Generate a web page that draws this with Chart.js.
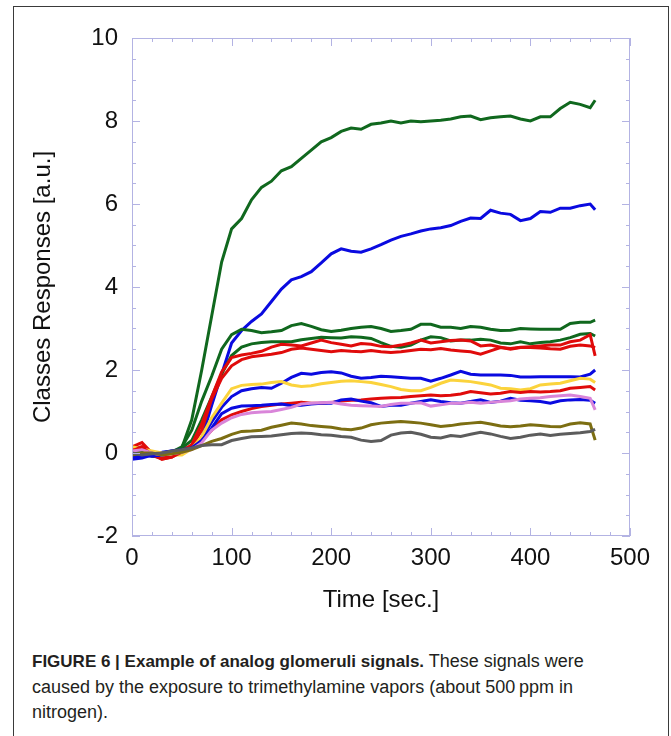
<!DOCTYPE html>
<html>
<head>
<meta charset="utf-8">
<script src="https://cdn.jsdelivr.net/npm/chart.js@4/dist/chart.umd.min.js"></script>
<style>
    body { margin: 0; background: #fff; width: 671px; height: 736px; overflow: hidden; position: relative; }
    #frame { position: absolute; left: 13px; top: 6px; width: 656px; height: 760px; border: 1px solid #3a3a3a; box-sizing: border-box; }
    #chart { position: absolute; left: 0; top: 0; }
    #caption { position: absolute; left: 32px; top: 649px; font-family: "Liberation Sans", Arial, sans-serif; font-size: 18px; line-height: 25.5px; color: #231f20; white-space: nowrap; }
    #caption b { font-size: 17px; }
</style>
</head>
<body>
<div id="frame"></div>
<canvas id="chart" width="671" height="620"></canvas>
<div id="caption"><b>FIGURE 6 | Example of analog glomeruli signals.</b> These signals were<br>caused by the exposure to trimethylamine vapors (about 500&#8201;ppm in<br>nitrogen).</div>
<script>
// time axis, sec.
const times = [0, 10, 20, 30, 40, 50, 60, 70, 80, 90,
    100, 110, 120, 130, 140, 150, 160, 170, 180, 190,
    200, 210, 220, 230, 240, 250, 260, 270, 280, 290,
    300, 310, 320, 330, 340, 350, 360, 370, 380, 390,
    400, 410, 420, 430, 440, 450, 460, 465];

// class responses [a.u.]
const green1 = [-0.05, 0.0, -0.05, -0.08, 0.0, 0.12, 0.8, 2.0, 3.3, 4.6,
    5.4, 5.65, 6.1, 6.4, 6.55, 6.8, 6.9, 7.1, 7.3, 7.5,
    7.6, 7.75, 7.83, 7.8, 7.92, 7.95, 8.0, 7.95, 8.0, 7.98,
    8.0, 8.02, 8.05, 8.1, 8.12, 8.03, 8.08, 8.1, 8.12, 8.05,
    8.0, 8.1, 8.1, 8.3, 8.45, 8.4, 8.32, 8.5];
const blue1 = [-0.15, -0.12, -0.05, 0.0, 0.05, 0.1, 0.15, 0.35, 1.15, 1.9,
    2.65, 2.95, 3.17, 3.35, 3.65, 3.95, 4.17, 4.25, 4.37, 4.58,
    4.8, 4.92, 4.86, 4.84, 4.92, 5.02, 5.13, 5.22, 5.28, 5.35,
    5.4, 5.43, 5.48, 5.58, 5.66, 5.65, 5.85, 5.78, 5.75, 5.6,
    5.65, 5.82, 5.8, 5.9, 5.9, 5.96, 6.0, 5.86];
const green2 = [0.0, 0.05, -0.05, -0.08, 0.02, 0.15, 0.55, 1.25, 1.85, 2.5,
    2.85, 2.98, 2.95, 2.9, 2.92, 2.95, 3.07, 3.12, 3.05, 2.97,
    2.93, 2.96, 3.0, 3.03, 3.05, 3.0, 2.93, 2.95, 2.98, 3.1,
    3.1, 3.03, 3.03, 3.0, 3.05, 3.03, 2.98, 2.95, 2.96, 3.0,
    2.99, 2.98, 2.98, 2.98, 3.12, 3.15, 3.15, 3.2];
const green3 = [0.05, 0.0, -0.08, -0.1, 0.0, 0.12, 0.3, 0.8, 1.35, 1.9,
    2.35, 2.55, 2.63, 2.66, 2.68, 2.68, 2.68, 2.73, 2.76, 2.79,
    2.78, 2.77, 2.8, 2.79, 2.76, 2.66, 2.57, 2.55, 2.6, 2.72,
    2.8, 2.78, 2.7, 2.72, 2.72, 2.74, 2.72, 2.65, 2.63, 2.68,
    2.63, 2.66, 2.68, 2.72, 2.78, 2.86, 2.88, 2.82];
const red1 = [0.15, 0.25, 0.0, -0.15, -0.1, 0.05, 0.2, 0.7, 1.35, 1.95,
    2.3, 2.36, 2.4, 2.45, 2.55, 2.62, 2.6, 2.58, 2.65, 2.72,
    2.66, 2.62, 2.58, 2.64, 2.62, 2.57, 2.56, 2.6, 2.65, 2.72,
    2.65, 2.68, 2.71, 2.72, 2.7, 2.58, 2.6, 2.55, 2.5, 2.54,
    2.56, 2.58, 2.6, 2.6, 2.68, 2.72, 2.85, 2.34];
const red2 = [0.1, 0.15, -0.05, -0.12, -0.08, 0.05, 0.15, 0.55, 1.3, 1.8,
    2.1, 2.25, 2.32, 2.35, 2.38, 2.42, 2.5, 2.53, 2.5, 2.47,
    2.44, 2.47, 2.45, 2.44, 2.47, 2.44, 2.42, 2.44, 2.47, 2.5,
    2.49, 2.52, 2.48, 2.46, 2.44, 2.38, 2.46, 2.54, 2.52, 2.55,
    2.54, 2.53, 2.51, 2.5, 2.57, 2.6, 2.58, 2.54];
const blue2 = [-0.12, -0.05, 0.0, 0.02, 0.05, 0.08, 0.12, 0.35, 0.75, 1.1,
    1.36, 1.5, 1.55, 1.58, 1.56, 1.68, 1.82, 1.92, 1.9, 1.94,
    1.96, 1.93, 1.85, 1.8, 1.82, 1.85, 1.84, 1.82, 1.8, 1.8,
    1.73, 1.8, 1.88, 1.97, 1.9, 1.88, 1.88, 1.88, 1.87, 1.83,
    1.83, 1.84, 1.84, 1.84, 1.84, 1.83, 1.9, 2.0];
const yellow = [0.15, 0.1, 0.05, 0.0, -0.05, -0.05, 0.1, 0.4, 0.85, 1.2,
    1.55, 1.63, 1.65, 1.66, 1.7, 1.72, 1.64, 1.6, 1.62, 1.67,
    1.7, 1.73, 1.74, 1.72, 1.7, 1.65, 1.6, 1.53, 1.5, 1.5,
    1.58, 1.68, 1.76, 1.74, 1.72, 1.68, 1.64, 1.56, 1.55, 1.52,
    1.55, 1.64, 1.66, 1.68, 1.74, 1.8, 1.78, 1.7];
const red3 = [0.05, 0.15, -0.05, -0.15, -0.1, 0.02, 0.1, 0.3, 0.55, 0.8,
    0.92, 1.0, 1.07, 1.12, 1.15, 1.18, 1.2, 1.22, 1.2, 1.2,
    1.22, 1.25, 1.27, 1.28, 1.3, 1.32, 1.33, 1.34, 1.36, 1.38,
    1.4, 1.38, 1.39, 1.42, 1.48, 1.45, 1.42, 1.44, 1.48, 1.46,
    1.48, 1.47, 1.48, 1.5, 1.56, 1.58, 1.6, 1.52];
const blue3 = [-0.1, -0.05, -0.08, -0.05, 0.0, 0.05, 0.12, 0.3, 0.6, 0.95,
    1.08, 1.13, 1.14, 1.15, 1.17, 1.18, 1.14, 1.15, 1.18, 1.2,
    1.2, 1.28, 1.3, 1.25, 1.21, 1.12, 1.15, 1.15, 1.2, 1.24,
    1.28, 1.24, 1.21, 1.2, 1.24, 1.28, 1.22, 1.25, 1.32, 1.27,
    1.26, 1.24, 1.2, 1.26, 1.28, 1.29, 1.27, 1.2];
const pink = [0.05, 0.08, 0.0, -0.05, -0.02, 0.02, 0.08, 0.25, 0.55, 0.72,
    0.85, 0.93, 0.97, 0.99, 1.0, 1.05, 1.1, 1.18, 1.2, 1.21,
    1.22, 1.18, 1.15, 1.14, 1.13, 1.12, 1.17, 1.2, 1.2, 1.21,
    1.13, 1.16, 1.2, 1.2, 1.22, 1.2, 1.22, 1.24, 1.26, 1.3,
    1.32, 1.33, 1.36, 1.38, 1.4, 1.36, 1.32, 1.04];
const olive = [-0.05, 0.0, 0.0, -0.05, -0.02, 0.02, 0.08, 0.18, 0.28, 0.35,
    0.45, 0.52, 0.53, 0.55, 0.62, 0.67, 0.72, 0.7, 0.66, 0.64,
    0.62, 0.58, 0.56, 0.6, 0.68, 0.72, 0.74, 0.76, 0.74, 0.72,
    0.68, 0.64, 0.66, 0.7, 0.72, 0.74, 0.7, 0.65, 0.63, 0.65,
    0.68, 0.66, 0.64, 0.63, 0.7, 0.73, 0.7, 0.31];
const grey = [0.0, -0.05, -0.02, 0.0, 0.05, 0.08, 0.12, 0.18, 0.2, 0.2,
    0.3, 0.35, 0.39, 0.4, 0.41, 0.44, 0.47, 0.48, 0.47, 0.44,
    0.43, 0.4, 0.38, 0.31, 0.28, 0.3, 0.43, 0.48, 0.5, 0.45,
    0.38, 0.36, 0.42, 0.4, 0.45, 0.5, 0.46, 0.4, 0.35, 0.38,
    0.43, 0.46, 0.42, 0.45, 0.47, 0.49, 0.52, 0.57];

const GREEN = '#10681e', BLUE = '#0a0ae0', RED = '#e00b0b', YELLOW = '#fbd33c',
      PINK = '#d985d9', OLIVE = '#7c6e12', GREY = '#5c5c5c';
const AXIS_COLOR = '#b3b3e3';
const TEXT = '#111';

const series = [
    [grey, GREY], [olive, OLIVE], [pink, PINK], [blue3, BLUE], [red3, RED],
    [yellow, YELLOW], [blue2, BLUE], [red2, RED], [red1, RED], [green3, GREEN],
    [green2, GREEN], [blue1, BLUE], [green1, GREEN]
];

// frame with inward major/minor ticks on all four sides
const frameTicks = {
    id: 'frameTicks',
    afterDraw(chart) {
        const { ctx, chartArea: a, scales: { x, y } } = chart;
        ctx.save();
        ctx.strokeStyle = AXIS_COLOR;
        ctx.lineWidth = 1;
        ctx.strokeRect(a.left + 0.5, a.top + 0.5, a.right - a.left - 1, a.bottom - a.top - 1);
        ctx.beginPath();
        for (let i = 0; i <= 25; i++) {
            const px = Math.round(x.getPixelForValue(i * 20)) + 0.5;
            const len = i % 5 === 0 ? 8 : 4;
            ctx.moveTo(px, a.bottom); ctx.lineTo(px, a.bottom - len);
            ctx.moveTo(px, a.top); ctx.lineTo(px, a.top + len);
        }
        for (let i = 0; i <= 24; i++) {
            const py = Math.round(y.getPixelForValue(-2 + i * 0.5)) + 0.5;
            const len = i % 4 === 0 ? 8 : 4;
            ctx.moveTo(a.left, py); ctx.lineTo(a.left + len, py);
            ctx.moveTo(a.right, py); ctx.lineTo(a.right - len, py);
        }
        ctx.stroke();
        ctx.restore();
    }
};

const font = { family: '"Liberation Sans", Arial, sans-serif', size: 24 };

new Chart(document.getElementById('chart'), {
    type: 'line',
    data: {
        datasets: series.map(([vals, color]) => ({
            data: times.map((t, i) => ({ x: t, y: vals[i] })),
            borderColor: color,
            borderWidth: 3,
            pointRadius: 0,
            tension: 0,
            fill: false
        }))
    },
    options: {
        responsive: false,
        animation: false,
        devicePixelRatio: 1,
        layout: { padding: { top: 38, right: 41, left: 0, bottom: 0 } },
        plugins: { legend: { display: false }, tooltip: { enabled: false } },
        scales: {
            x: {
                type: 'linear', min: 0, max: 500,
                grid: { display: false, drawTicks: false },
                border: { display: false },
                ticks: { stepSize: 100, color: TEXT, font, padding: 8, maxRotation: 0 },
                title: { display: true, text: 'Time [sec.]', color: TEXT, font, padding: { top: 0, bottom: 5 } },
                afterFit: s => { s.height = 84; }
            },
            y: {
                min: -2, max: 10,
                grid: { display: false, drawTicks: false },
                border: { display: false },
                ticks: { stepSize: 2, color: TEXT, font, padding: 14 },
                title: { display: true, text: 'Classes Responses [a.u.]', color: TEXT, font, padding: { top: 29, bottom: 0 } },
                afterFit: s => { s.width = 132; }
            }
        }
    },
    plugins: [frameTicks]
});
</script>
</body>
</html>
